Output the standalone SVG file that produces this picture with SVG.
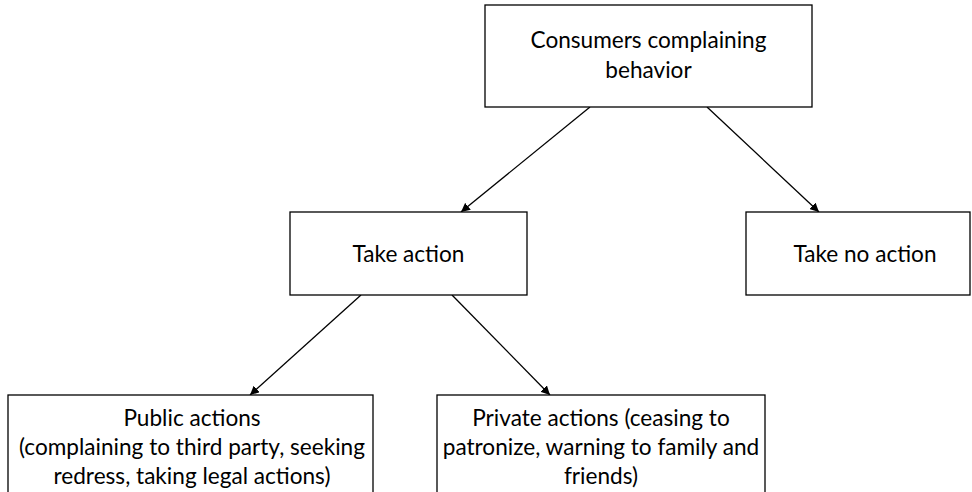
<svg xmlns="http://www.w3.org/2000/svg" width="972" height="492" viewBox="0 0 972 492">
  <style>
    .box { fill: #ffffff; stroke: #000000; stroke-width: 1.3; }
    .lbl { font-family: Lato, "Open Sans", "Liberation Sans", sans-serif; font-size: 22.6px; fill: #000000; text-anchor: middle; }
    .edge { stroke: #000000; stroke-width: 1.3; fill: none; marker-end: url(#arrow); }
  </style>
  <defs>
    <marker id="arrow" viewBox="0 0 10 10" refX="10" refY="5" markerWidth="9" markerHeight="9" markerUnits="userSpaceOnUse" orient="auto">
      <path d="M0,0 L10,5 L0,10 z" fill="#000000"/>
    </marker>
  </defs>
  <rect width="972" height="492" fill="#ffffff"/>

  <g id="connectors">
    <line class="edge" x1="590" y1="107" x2="461" y2="212"/>
    <line class="edge" x1="707" y1="107" x2="819" y2="212"/>
    <line class="edge" x1="361" y1="295" x2="250" y2="395"/>
    <line class="edge" x1="452" y1="295" x2="550" y2="395"/>
  </g>

  <g id="node-root">
    <rect class="box" x="485" y="5" width="327" height="102"/>
    <text class="lbl" x="648.5" y="48">Consumers complaining</text>
    <text class="lbl" x="648.5" y="78">behavior</text>
  </g>

  <g id="node-take-action">
    <rect class="box" x="290" y="212" width="237" height="83"/>
    <text class="lbl" x="408.5" y="262">Take action</text>
  </g>

  <g id="node-take-no-action">
    <rect class="box" x="746" y="212" width="224" height="83"/>
    <text class="lbl" x="865" y="262">Take no action</text>
  </g>

  <g id="node-public">
    <rect class="box" x="8" y="395" width="365" height="110"/>
    <text class="lbl" x="192" y="426">Public actions</text>
    <text class="lbl" x="192" y="455">(complaining to third party, seeking</text>
    <text class="lbl" x="192" y="484">redress, taking legal actions)</text>
  </g>

  <g id="node-private">
    <rect class="box" x="437" y="395" width="328" height="110"/>
    <text class="lbl" x="601" y="426">Private actions (ceasing to</text>
    <text class="lbl" x="601" y="455">patronize, warning to family and</text>
    <text class="lbl" x="601" y="484">friends)</text>
  </g>
</svg>
